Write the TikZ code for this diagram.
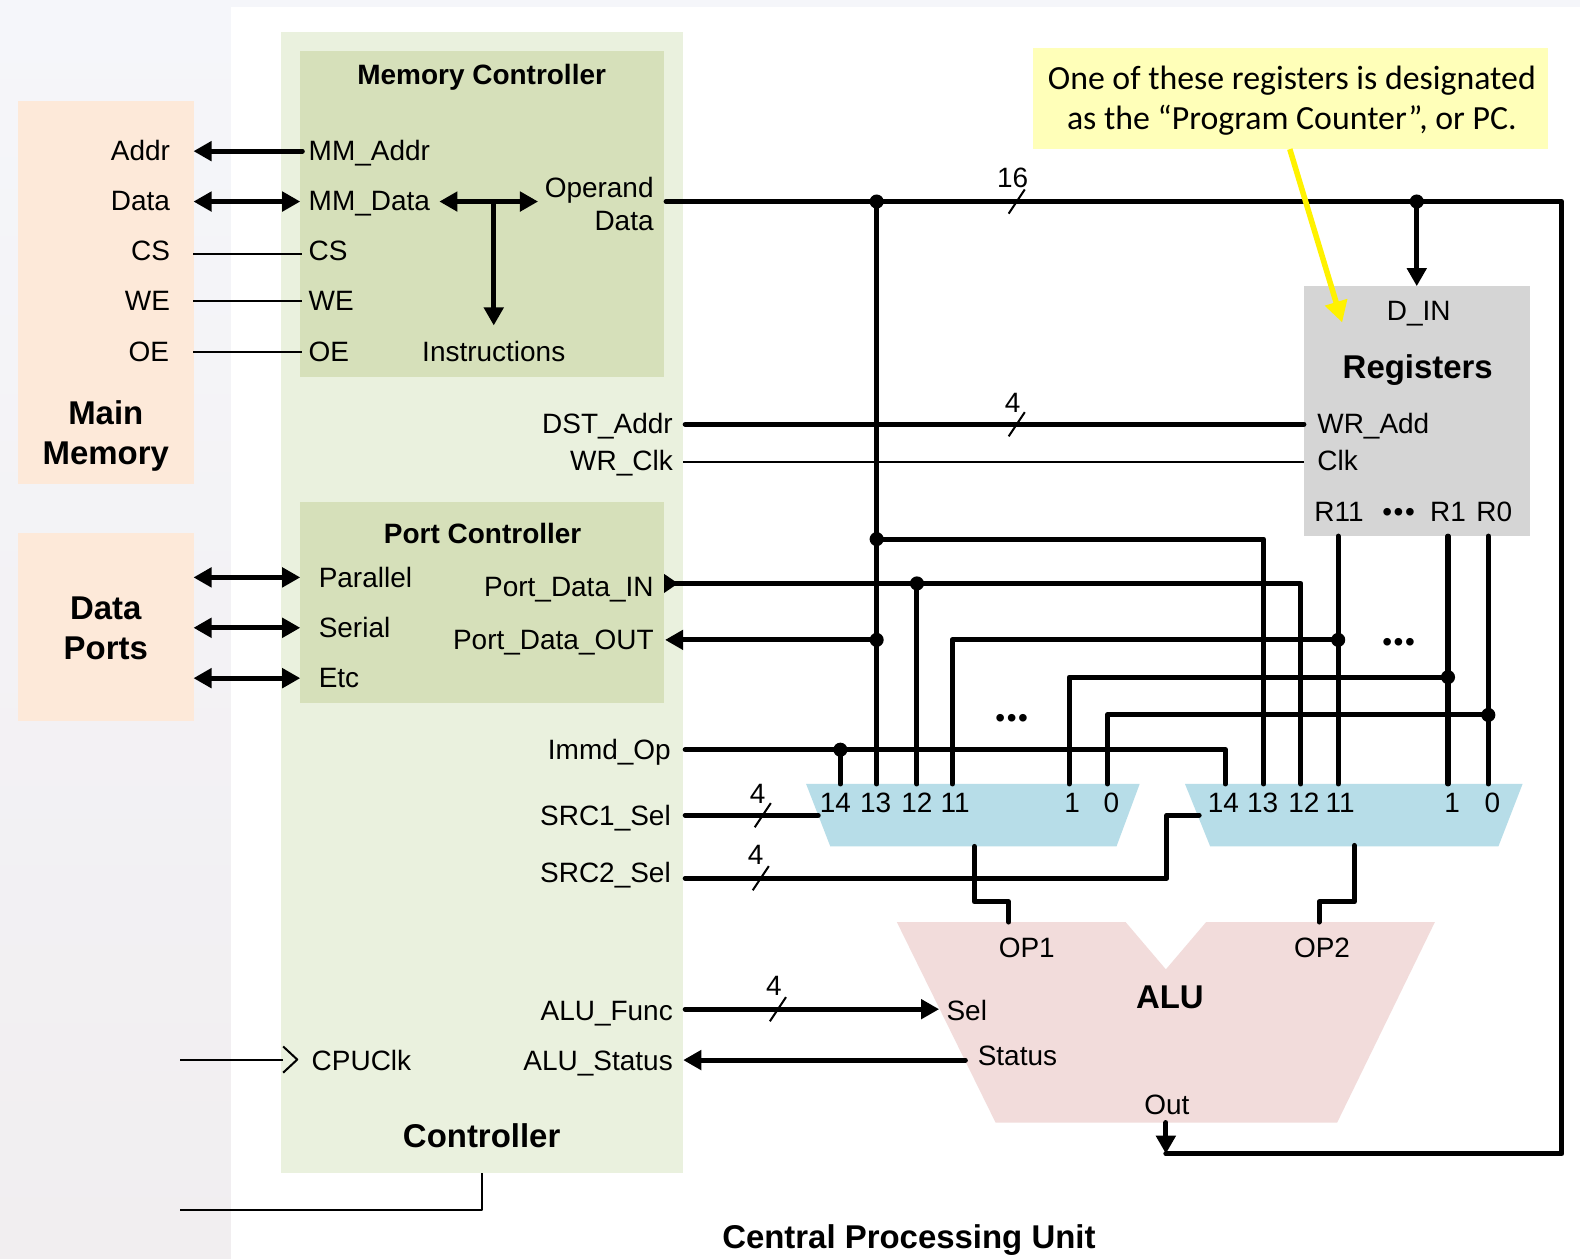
\documentclass[tikz,border=0pt]{standalone}
\usepackage{fontspec}
\setmainfont{Liberation Sans}
\newfontfamily\notefont{Carlito}
\usetikzlibrary{arrows.meta,fit}

\definecolor{bgtop}{HTML}{F5F6FA}
\definecolor{bgbot}{HTML}{F1EEF0}
\definecolor{peach}{HTML}{FDE9D9}
\definecolor{ctrlgreen}{HTML}{EAF1DE}
\definecolor{subgreen}{HTML}{D6E0BA}
\definecolor{reggray}{HTML}{D5D5D5}
\definecolor{muxblue}{HTML}{B7DDE8}
\definecolor{alupink}{HTML}{F2DCDB}
\definecolor{notefill}{HTML}{FFFFB9}

\tikzset{
  blockbox/.style={fit={#1}, inner sep=0pt, outer sep=0pt, draw=none},
  lbl/.style={inner sep=0pt, text height=0.4cm, text depth=0pt, font=\fontsize{15.8}{19}\selectfont},
  lblb/.style={lbl, font=\fontsize{15.8}{19}\selectfont\bfseries},
  title/.style={inner sep=0pt, align=center, font=\fontsize{18.6}{22.6}\selectfont\bfseries},
  lbln/.style={inner sep=0pt, font=\fontsize{15.8}{18.7}\selectfont},
  bigwire/.style={line width=0.1cm, line cap=round, line join=round},
  thinwire/.style={line width=0.04cm},
  headr/.style={-{Triangle[length=0.36cm,width=0.38cm]}},
  headb/.style={{Triangle[length=0.36cm,width=0.38cm]}-{Triangle[length=0.36cm,width=0.38cm]}}
}

\begin{document}
\begin{tikzpicture}[x=0.02cm,y=-0.02cm]

\useasboundingbox (0,0) rectangle (1568,1249);

% page background
\shade[top color=bgtop, bottom color=bgbot] (0,0) rectangle (1568,1249);
\fill[white] (229,7) rectangle (1568,1249);

% blocks
\node[blockbox={(18,100) (193,480)}, fill=peach] (mainmem) {};
\node[blockbox={(18,529) (193,716)}, fill=peach] (dataports) {};
\node[blockbox={(279,32) (678,1164)}, fill=ctrlgreen] (ctrl) {};
\node[blockbox={(298,51) (659,374)}, fill=subgreen] (memctrl) {};
\node[blockbox={(298,498) (659,698)}, fill=subgreen] (portctrl) {};
\node[blockbox={(1294,284) (1518,532)}, fill=reggray] (regs) {};
\node[blockbox={(1025,48) (1536,148)}, fill=notefill] (note) {};

% muxes and alu
\fill[muxblue] (800,778) -- (1131,778) -- (1108,840) -- (824,840) -- cycle;
\fill[muxblue] (1176,778) -- (1511,778) -- (1487,840) -- (1201,840) -- cycle;
\fill[alupink] (890,915) -- (1117,915) -- (1157,962) -- (1197,915) -- (1424,915) -- (1327,1114) -- (988,1114) -- cycle;

% junctions on the data bus
\coordinate (opd) at (661,200);
\coordinate (jA) at (870,200);
\coordinate (jB) at (1406,200);
\coordinate (jC) at (870,535);
\coordinate (jD) at (870,635);
\coordinate (jE) at (910,579);
\coordinate (jF) at (1328,635);
\coordinate (jG) at (1437,672);
\coordinate (jH) at (1477,709.5);
\coordinate (jI) at (834,744);
\coordinate (tr) at (1550,200);
\coordinate (br) at (1550,1145);
\coordinate (bm) at (1157,1145);
\coordinate (aluout) at (1157,1114);

% pins along the top of the muxes
\foreach \pname/\px in {aF/834,aE/870,aD/910,aC/945,aB/1061,aA/1099,bF/1216,bE/1254,bD/1291,bC/1328,bB/1437,bA/1477}
  \coordinate (\pname) at (\px,778);

% main memory bus
\coordinate (mAddrL) at (192,150);
\coordinate (mAddrR) at (300,150);
\coordinate (mDataL) at (192,200);
\coordinate (mDataR) at (298,200);
\coordinate (mCsL) at (192,252);
\coordinate (mCsR) at (300,252);
\coordinate (mWeL) at (192,299);
\coordinate (mWeR) at (300,299);
\coordinate (mOeL) at (192,349);
\coordinate (mOeR) at (300,349);
\draw[bigwire,headr] (mAddrR) -- (mAddrL);
\draw[bigwire,headb] (mDataL) -- (mDataR);
\draw[thinwire] (mCsL) -- (mCsR);
\draw[thinwire] (mWeL) -- (mWeR);
\draw[thinwire] (mOeL) -- (mOeR);

% inside memory controller
\coordinate (mcL) at (436,200);
\coordinate (mcR) at (534,200);
\coordinate (mcT) at (490,200);
\coordinate (mcB) at (490,323);
\draw[bigwire,headb] (mcL) -- (mcR);
\draw[bigwire,headr] (mcT) -- (mcB);

% port bus
\foreach \py [count=\pi] in {573,623,673} {
  \coordinate (pL\pi) at (192,\py);
  \coordinate (pR\pi) at (298,\py);
  \draw[bigwire,headb] (pL\pi) -- (pR\pi);
}

% operand data loop
\draw[bigwire] (opd) -- (tr) -- (br) -- (bm);
\draw[bigwire,headr] (aluout) -- (bm);
\draw[bigwire,headr] (jB) -- (jB |- regs.north);
\draw[bigwire] (jA) -- (aE);

% register file connections
\coordinate (dstL) at (680,421);
\coordinate (clkL) at (678,458);
\draw[bigwire] (dstL) -- (dstL -| regs.west);
\draw[thinwire] (clkL) -- (clkL -| regs.west);
\draw[bigwire] (bC |- regs.south) -- (bC);
\draw[bigwire] (bB |- regs.south) -- (bB);
\draw[bigwire] (bA |- regs.south) -- (bA);

% mux inputs
\draw[bigwire] (jC) -| (bE);
\coordinate (pinA) at (663,579);
\draw[bigwire] (pinA) -| (bD);
\draw[bigwire,{Triangle[reversed,length=0.28cm,width=0.36cm]}-] (659,579) -- (jE);
\draw[bigwire] (jE) -- (aD);
\draw[bigwire,-{Triangle[length=0.36cm,width=0.38cm]}] (jD) -- (660,635);
\draw[bigwire] (jF) -| (aC);
\draw[bigwire] (jG) -| (aB);
\draw[bigwire] (jH) -| (aA);
\coordinate (immL) at (680,744);
\draw[bigwire] (immL) -| (bF);
\draw[bigwire] (jI) -- (aF);

% select lines
\coordinate (src1L) at (680,809);
\coordinate (src1R) at (812,809);
\coordinate (src2L) at (680,871.5);
\coordinate (src2M) at (1158,871.5);
\coordinate (src2N) at (1158,809);
\coordinate (src2R) at (1190,809);
\draw[bigwire] (src1L) -- (src1R);
\draw[bigwire] (src2L) -- (src2M) -- (src2N) -- (src2R);

% mux outputs to alu
\coordinate (outA) at (967,840);
\coordinate (inA) at (1001,915);
\coordinate (outB) at (1344,839);
\coordinate (inB) at (1309,915);
\draw[bigwire] (outA) -- (967,895) -- (1001,895) -- (inA);
\draw[bigwire] (outB) -- (1344,895) -- (1309,895) -- (inB);

% alu function and status
\coordinate (fnL) at (680,1001.5);
\coordinate (fnR) at (932,1001.5);
\coordinate (stR) at (958,1052);
\coordinate (stL) at (678,1052);
\draw[bigwire,headr] (fnL) -- (fnR);
\draw[bigwire,headr] (stR) -- (stL);

% clock and reset
\coordinate (clkA) at (179,1051.5);
\coordinate (clkB) at (281,1051.5);
\coordinate (rstA) at (179,1200.5);
\coordinate (rstB) at (478,1200.5);
\draw[thinwire] (clkA) -- (clkB);
\draw[thinwire, line join=round] (clkB) +(0,-13) -- +(14,0) -- +(0,13);
\draw[thinwire, line join=round] (rstA) -- (rstB) -- (ctrl.south -| rstB);

% dots
\foreach \jn in {jA,jB,jC,jD,jE,jF,jG,jH,jI}
  \fill (\jn) circle (0.14cm);

% bus width ticks
\foreach \bx/\by in {1009/200,1009/421,757/809,755/871.5,772/1001.5}
  \draw[thinwire] (\bx,\by) +(-8,12) -- +(8,-12);

% pointer from the note
\coordinate (noteA) at (1280,148);
\coordinate (noteB) at (1332,320);
\draw[yellow, line width=0.11cm, -{Triangle[length=0.42cm,width=0.44cm]}] (noteA) -- (noteB);

% memory side labels
\node[lbl, anchor=east] (tAddr) at (169,149.5) {Addr};
\node[lbl, anchor=east] (tData) at (169,199) {Data};
\node[lbl, anchor=east] (tCs) at (169,249) {CS};
\node[lbl, anchor=east] (tWe) at (169,298) {WE};
\node[lbl, anchor=east] (tOe) at (168,348.5) {OE};
\node[title] (tMain) at (105,433) {Main\\Memory};
\node[title] (tPorts) at (105,624) {Data\\Ports};

% memory controller labels
\node[lblb] (tMemCtrl) at (478,74) {Memory Controller};
\node[lbl, anchor=west] (tMmAddr) at (306,149.5) {MM\_Addr};
\node[lbl, anchor=west] (tMmData) at (306,199) {MM\_Data};
\node[lbl, anchor=west] (tMmCs) at (306,249) {CS};
\node[lbl, anchor=west] (tMmWe) at (306,298) {WE};
\node[lbl, anchor=west] (tMmOe) at (306,349) {OE};
\node[lbln, anchor=east, align=right] (tOperand) at (649,202) {Operand\\Data};
\node[lbl] (tInstr) at (490,349) {Instructions};

% port controller labels
\node[lblb] (tPortCtrl) at (479,529) {Port Controller};
\node[lbl, anchor=west] (tParallel) at (316,573) {Parallel};
\node[lbl, anchor=west] (tSerial) at (316,623) {Serial};
\node[lbl, anchor=west] (tEtc) at (316,672) {Etc};
\node[lbl, anchor=east] (tPdIn) at (649,582) {Port\_Data\_IN};
\node[lbl, anchor=east] (tPdOut) at (649,635) {Port\_Data\_OUT};

% controller labels
\node[lbl, anchor=east] (tDst) at (668,420) {DST\_Addr};
\node[lbl, anchor=east] (tWrClk) at (668,457) {WR\_Clk};
\node[lbl, anchor=east] (tImmd) at (666,744) {Immd\_Op};
\node[lbl, anchor=east] (tSrcA) at (666,809) {SRC1\_Sel};
\node[lbl, anchor=east] (tSrcB) at (666,866) {SRC2\_Sel};
\node[lbl, anchor=east] (tFunc) at (668,1003) {ALU\_Func};
\node[lbl, anchor=east] (tStat) at (668,1052) {ALU\_Status};
\node[lbl, anchor=west] (tCpuClk) at (309,1052) {CPUClk};
\node[title] (tCtrl) at (478,1127) {Controller};
\node[title] (tCpu) at (902,1231) {Central Processing Unit};

% bus widths
\node[lbl] (wA) at (1005,176) {16};
\node[lbl] (wB) at (1005,399) {4};
\node[lbl] (wC) at (752,787) {4};
\node[lbl] (wD) at (750,848) {4};
\node[lbl] (wE) at (768,978) {4};

% register labels
\node[lbl] (tDin) at (1408,308) {D\_IN};
\node[title] (tRegs) at (1407,367) {Registers};
\node[lbl, anchor=west] (tWrAdd) at (1307,420) {WR\_Add};
\node[lbl, anchor=west] (tClk) at (1307,457) {Clk};
\node[lbl, anchor=west] (tRb) at (1304,508) {R11};
\node[lbl] (tRdots) at (1388,508) {•\kern0.9pt•\kern0.9pt•};
\node[lbl] (tRa) at (1437,508) {R1};
\node[lbl] (tRz) at (1483,508) {R0};
\node[lbl] (dotsA) at (1388,637) {•\kern0.9pt•\kern0.9pt•};
\node[lbl] (dotsB) at (1004,712) {•\kern0.9pt•\kern0.9pt•};

% mux pin numbers
\foreach \mt/\mx [count=\mi] in {14/829,13/869,12/910,11/948,1/1064,0/1103,14/1214,13/1253,12/1294,11/1330,1/1441,0/1481}
  \node[lbl] (mp\mi) at (\mx,796) {\mt};

% alu labels
\node[lbl] (tOpA) at (1019,940) {OP1};
\node[lbl] (tOpB) at (1312,940) {OP2};
\node[title] (tAlu) at (1161,990) {ALU};
\node[lbl, anchor=west] (tSel) at (939,1003) {Sel};
\node[lbl, anchor=west] (tStatus) at (970,1047) {Status};
\node[lbl] (tOut) at (1158,1096) {Out};

% note text
\node[inner sep=0pt, align=center, font=\notefont\fontsize{19.1}{22.3}\selectfont] (tNote) at (1282,100) {One of these registers is designated\\as the “Program Counter”, or PC.};

\end{tikzpicture}
\end{document}
